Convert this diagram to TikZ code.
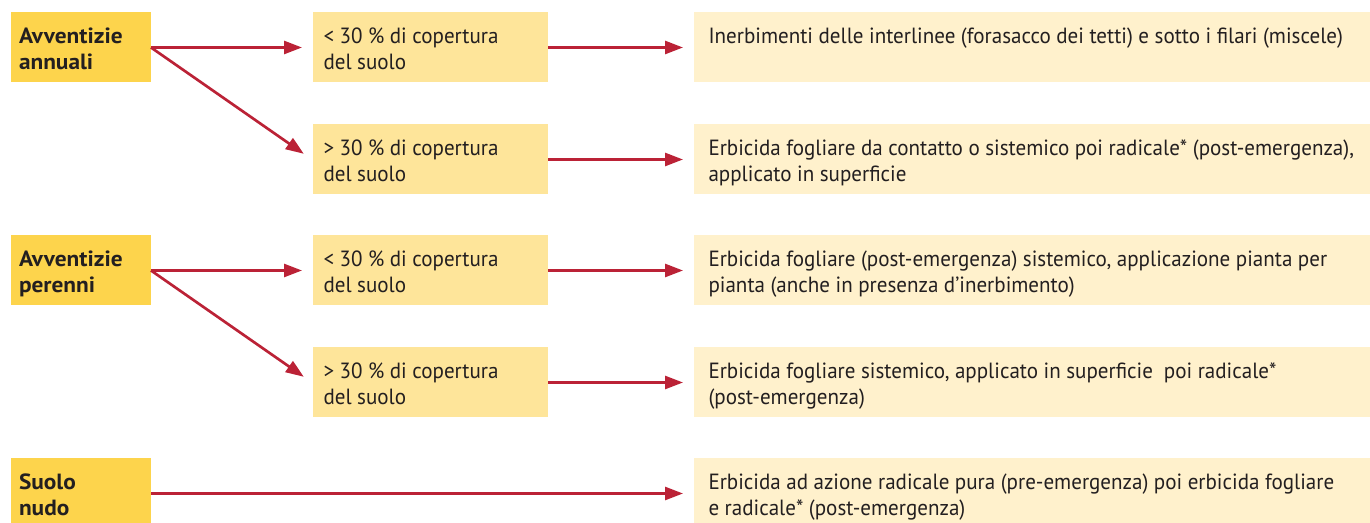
\documentclass[tikz,border=0pt]{standalone}
\usepackage{fontspec}
\setmainfont{PT Sans}[FakeStretch=0.957, BoldFeatures={FakeStretch=1.06}]
\usetikzlibrary{arrows.meta}

\definecolor{gruppocol}{RGB}{253,212,76}
\definecolor{coperturacol}{RGB}{254,229,154}
\definecolor{interventocol}{RGB}{255,241,204}
\definecolor{frecciacol}{RGB}{187,34,54}
\definecolor{testocol}{RGB}{35,31,32}

\tikzset{every picture/.style={line width=0.75pt}}
\tikzset{
  cella/.style={anchor=north west, inner ysep=0pt, text height=23.25pt, text depth=29.25pt,
    align=left, text=testocol, font=\fontsize{16.5}{19.5}\selectfont,
    execute at begin node={\spaceskip=0.25em plus 0.04em\relax}},
  gruppo/.style={cella, fill=gruppocol, text width=92.25pt, inner xsep=6.375pt,
    font=\fontsize{16.5}{19.5}\selectfont\bfseries},
  copertura/.style={cella, fill=coperturacol, text width=159.75pt, inner xsep=8.25pt},
  intervento/.style={cella, fill=interventocol, text width=485.25pt, inner xsep=11.25pt},
  freccia/.style={draw=frecciacol, line width=2pt, -{Triangle[length=13.5pt,width=9.75pt]}, shorten >=7.5pt}
}

\begin{document}
\begin{tikzpicture}[x=0.75pt,y=0.75pt,yscale=-1,xscale=1]
\useasboundingbox (0,0) rectangle (1370,523);

%Shape: Rectangle - gruppi di avventizie
\node [gruppo] (annuali) at (10,12) {Avventizie\\annuali};
\node [gruppo] (perenni) at (10,235) {Avventizie\\perenni};
\node [gruppo] (nudo) at (10,458) {Suolo\\nudo};

%Shape: Rectangle - copertura del suolo
\node [copertura] (ann_meno) at (312,12) {< 30 \% di copertura\\del suolo};
\node [copertura] (ann_piu) at (312,124) {> 30 \% di copertura\\del suolo};
\node [copertura] (per_meno) at (312,235) {< 30 \% di copertura\\del suolo};
\node [copertura] (per_piu) at (312,347) {> 30 \% di copertura\\del suolo};

%Shape: Rectangle - interventi
\node [intervento] (int_a) at (693,12) {Inerbimenti delle interlinee (forasacco dei tetti) e sotto i filari (miscele)};
\node [intervento] (int_b) at (693,124) {Erbicida fogliare da contatto o sistemico poi radicale* (post-emergenza),\\applicato in superficie};
\node [intervento] (int_c) at (693,235) {Erbicida fogliare (post-emergenza) sistemico, applicazione pianta per\\pianta (anche in presenza d’inerbimento)};
\node [intervento] (int_d) at (693,347) {Erbicida fogliare sistemico, applicato in superficie\ \ poi radicale*\\(post-emergenza)};
\node [intervento] (int_e) at (693,458) {Erbicida ad azione radicale pura (pre-emergenza) poi erbicida fogliare\\e radicale* (post-emergenza)};

%Straight Lines - frecce
\draw [freccia] (annuali.east) -- (ann_meno.west);
\draw [freccia] (annuali.east) -- (ann_piu.west);
\draw [freccia] (perenni.east) -- (per_meno.west);
\draw [freccia] (perenni.east) -- (per_piu.west);
\draw [freccia] (ann_meno.east) -- (int_a.west);
\draw [freccia] (ann_piu.east) -- (int_b.west);
\draw [freccia] (per_meno.east) -- (int_c.west);
\draw [freccia] (per_piu.east) -- (int_d.west);
\draw [freccia] (nudo.east) -- (int_e.west);

\end{tikzpicture}
\end{document}
